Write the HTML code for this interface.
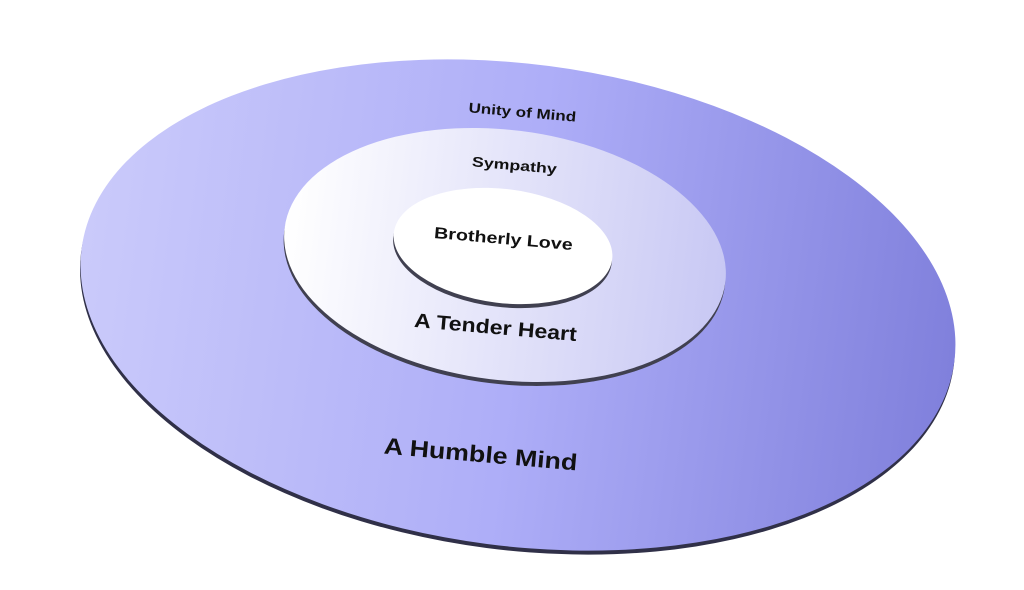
<!DOCTYPE html>
<html><head><style>
html,body{margin:0;padding:0;background:#fff;overflow:hidden;}
svg{display:block;}
</style></head><body>
<svg width="1024" height="590" viewBox="0 0 1024 590" xmlns="http://www.w3.org/2000/svg" font-family="Liberation Sans, sans-serif" font-weight="bold">
<defs>
<linearGradient id="g1" x1="0" y1="0" x2="1" y2="0">
<stop offset="0" stop-color="#cacafa"/><stop offset="0.5" stop-color="#aeaef8"/><stop offset="1" stop-color="#8080dc"/>
</linearGradient>
<linearGradient id="g2" x1="0" y1="0" x2="1" y2="0">
<stop offset="0" stop-color="#ffffff"/><stop offset="1" stop-color="#c8c8f4"/>
</linearGradient>
</defs>
<g transform="translate(518,305) rotate(7.4)">
<ellipse cx="0" cy="4" rx="440" ry="241" fill="#303048"/>
<ellipse cx="0" cy="0" rx="440" ry="241" fill="url(#g1)"/>
</g>
<g transform="translate(505,255) rotate(7)">
<ellipse cx="0" cy="4" rx="222" ry="125" fill="#404050"/>
<ellipse cx="0" cy="0" rx="222" ry="125" fill="url(#g2)"/>
</g>
<g transform="translate(503,246) rotate(7)">
<ellipse cx="0" cy="4" rx="110" ry="57" fill="#404050"/>
<ellipse cx="0" cy="0" rx="110" ry="57" fill="#ffffff"/>
</g>
<text x="522" y="117" font-size="14" text-anchor="middle" textLength="108" lengthAdjust="spacingAndGlyphs" transform="rotate(5 522 117)" fill="#111">Unity of Mind</text>
<text x="514" y="170" font-size="14" text-anchor="middle" textLength="85" lengthAdjust="spacingAndGlyphs" transform="rotate(5 514 170)" fill="#111">Sympathy</text>
<text x="503" y="244" font-size="16" text-anchor="middle" textLength="139" lengthAdjust="spacingAndGlyphs" transform="rotate(5 503 244)" fill="#111">Brotherly Love</text>
<text x="495" y="334" font-size="20" text-anchor="middle" textLength="163" lengthAdjust="spacingAndGlyphs" transform="rotate(5 495 334)" fill="#111">A Tender Heart</text>
<text x="480" y="462" font-size="23" text-anchor="middle" textLength="194" lengthAdjust="spacingAndGlyphs" transform="rotate(5 480 462)" fill="#111">A Humble Mind</text>
</svg>
</body></html>
